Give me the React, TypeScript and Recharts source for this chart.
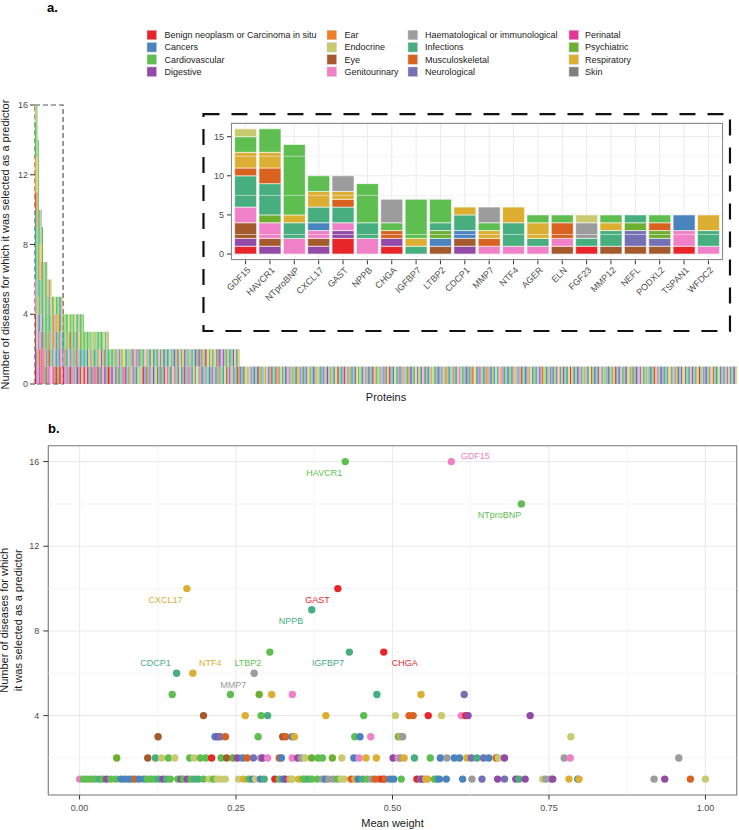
import React from 'react';
import {
  BarChart, Bar, XAxis, YAxis, CartesianGrid, ReferenceArea, ReferenceLine,
  ScatterChart, Scatter, Cell,
} from 'recharts';

const FONT = '"Liberation Sans", Arial, Helvetica, sans-serif';

// ---------- categories ----------
const categoryCodes = ['A', 'B', 'C', 'D', 'E', 'F', 'G', 'H', 'I', 'J', 'K', 'L', 'M', 'N', 'O', 'P'];
const categoryNames = [
  'Benign neoplasm or Carcinoma in situ', 'Cancers', 'Cardiovascular', 'Digestive',
  'Ear', 'Endocrine', 'Eye', 'Genitourinary',
  'Haematological or immunological', 'Infections', 'Musculoskeletal', 'Neurological',
  'Perinatal', 'Psychiatric', 'Respiratory', 'Skin',
];
const categoryColors = [
  '#E8262A', '#4A84BF', '#5EBF50', '#9349A8',
  '#F18024', '#C9CA70', '#A45A2C', '#F080C7',
  '#9C9C9C', '#47AE7F', '#DA6220', '#7570B5',
  '#E4359A', '#6CAF31', '#DCAE31', '#7F7F7F',
];
const COLOR: Record<string, string> = {};
categoryCodes.forEach((c, i) => { COLOR[c] = categoryColors[i]; });

// ---------- panel a: proteins (bottom -> top, one letter per disease) ----------
const insetProteins = ['GDF15', 'HAVCR1', 'NTproBNP', 'CXCL17', 'GAST', 'NPPB', 'CHGA', 'IGFBP7', 'LTBP2', 'CDCP1',
  'MMP7', 'NTF4', 'AGER', 'ELN', 'FGF23', 'MMP12', 'NEFL', 'PODXL2', 'TSPAN1', 'WFDC2'];
const insetCodes = ['ADGGHHJJJJKOOCCF', 'DGHHNJJJJKKOOCCC', 'HHJJOCCCCCCCCC', 'DGHBJJOOCC', 'AADHJJKOII',
  'HHJJCCCCC', 'ADKCIII', 'JOCCCCC', 'GBNJCCC', 'DGBJJO',
  'HKOCII', 'HJJJOO', 'HJOOC', 'GHKKC', 'AJIIF', 'GJJOC', 'GLLNJ', 'GLNKC', 'AHHBB', 'HJJOO'];
const fourCodes = ['AHJC', 'DGJC', 'HJOC', 'BJCC', 'GHNF', 'AJKC', 'DBJC', 'HOCC', 'JJCF', 'BGLC', 'AHCC', 'DJOI', 'GJCC', 'HBNC', 'KJCC'];
const threeCodes = ['AJC', 'HJC', 'DBC', 'GOC', 'JCC', 'BHF', 'ANC', 'HJF', 'DJC', 'GCC', 'BOC', 'AHJ', 'JLC', 'HCC', 'DKF', 'BJC', 'GJI', 'ACF'];
const twoCodes = ('AJ BC DJ HC JO GB CF BD JC HO AF DC JB LC OF CB HJ DK JH BI CD FJ OC BJ AC DH JF KC BL HJ ' +
  'CO DJ JB FC GJ BH CJ DO JL AB HC IJ CB DF JC OB HL BJ CK DJ FH JC BO AD JC LB HF DJ CI BJ ' +
  'OC JD FB HJ CA DL JO BC HD JK CF BJ DO JI HC BF CJ DA OL JB CH BD FJ KC JO DB HC IJ CD BF JL AC GO').split(' ');
const oneCodes =
  'JBDCOFIHJBLCDGJOBFCHJDKBCJAOLFJCBDHIJOCBKJFDCLBJHO' +
  'CJBDOFJCLBHJDCIOBJFKDCJBAHJOLCBJDFCOJBIHCDJBLKOJCF' +
  'BHJDCOAJBLFCJDIBOHJCKBDJCFLOJBHCDJBIOFJCDBLJHCOKJB' +
  'CFDJBOHIJCLBDJCAOFJBDHCJBKOLJDCBFJIHODJCBLJCDOFBHJ' +
  'ACJBDOIFJLCBHJDKOCJBFDLJCBHOJIDCBJFAOJLCBDHJCOIBJF' +
  'KCDJBLOHJCFBDJCIOAJBLHCJDBOFJKCBDJHLOIJCFBJDCAOHJB' +
  'DLCJBFOIJHCKBJDOFLJCBHDJCIOAJFBDLJCHOKJBCFDJIBOLHJ' +
  'CBDO';

const MAX_BLOCKS = 9;
function runs(code: string) {
  const out: { cat: string; n: number }[] = [];
  for (const ch of code) {
    const last = out[out.length - 1];
    if (last && last.cat === ch) last.n += 1;
    else out.push({ cat: ch, n: 1 });
  }
  return out;
}
function toRow(name: string, code: string) {
  const row: any = { name };
  runs(code).forEach((r, i) => { row['b' + i] = r.n; row['c' + i] = r.cat; });
  return row;
}
const insetData = insetProteins.map((p, i) => toRow(p, insetCodes[i]));
const restCodes = [...fourCodes, ...threeCodes, ...twoCodes, ...oneCodes.split('')];
const mainData = [...insetData, ...restCodes.map((c, i) => toRow('protein_' + (i + 21), c))];

// ---------- panel b: mean weight per protein, by number of diseases ----------
const rowOne: [number, string][] = [
  [0, 'H'], [0.006, 'C'], [0.012, 'C'], [0.018, 'C'], [0.024, 'C'], [0.031, 'J'], [0.037, 'C'], [0.043, 'D'], [0.05, 'C'],
  [0.058, 'C'], [0.066, 'B'], [0.072, 'B'], [0.078, 'B'], [0.084, 'B'], [0.089, 'K'], [0.095, 'B'], [0.103, 'B'], [0.108, 'C'],
  [0.114, 'C'], [0.12, 'C'], [0.126, 'J'], [0.133, 'D'], [0.139, 'J'], [0.145, 'C'], [0.157, 'C'], [0.162, 'D'], [0.166, 'C'],
  [0.172, 'D'], [0.178, 'C'], [0.184, 'J'], [0.19, 'J'], [0.198, 'C'], [0.207, 'F'], [0.214, 'C'], [0.22, 'F'], [0.226, 'F'],
  [0.233, 'F'], [0.254, 'F'], [0.262, 'O'], [0.27, 'C'], [0.276, 'B'], [0.281, 'F'], [0.289, 'B'], [0.295, 'J'], [0.312, 'A'],
  [0.319, 'C'], [0.325, 'B'], [0.329, 'D'], [0.336, 'O'], [0.34, 'F'], [0.35, 'O'], [0.357, 'C'], [0.36, 'C'], [0.366, 'J'],
  [0.371, 'C'], [0.38, 'C'], [0.388, 'I'], [0.393, 'B'], [0.398, 'I'], [0.405, 'I'], [0.412, 'C'], [0.418, 'F'], [0.423, 'F'],
  [0.434, 'K'], [0.44, 'O'], [0.445, 'B'], [0.452, 'J'], [0.459, 'C'], [0.466, 'I'], [0.472, 'K'], [0.478, 'K'], [0.484, 'A'],
  [0.488, 'K'], [0.496, 'B'], [0.502, 'B'], [0.514, 'C'], [0.539, 'A'], [0.545, 'L'], [0.548, 'D'], [0.553, 'O'], [0.556, 'O'],
  [0.567, 'C'], [0.571, 'J'], [0.575, 'B'], [0.586, 'B'], [0.612, 'B'], [0.627, 'I'], [0.643, 'L'], [0.668, 'D'], [0.679, 'L'],
  [0.697, 'D'], [0.702, 'J'], [0.712, 'D'], [0.74, 'F'], [0.745, 'I'], [0.753, 'I'], [0.756, 'D'], [0.782, 'O'], [0.796, 'B'],
  [0.798, 'O'], [0.918, 'I'], [0.935, 'D'], [0.976, 'K'], [1.0, 'F'],
];
const rowTwo: [number, string][] = [
  [0.0593, 'N'], [0.1089, 'G'], [0.1213, 'J'], [0.131, 'F'], [0.142, 'C'], [0.152, 'F'], [0.176, 'C'], [0.183, 'F'], [0.193, 'C'],
  [0.202, 'C'], [0.211, 'A'], [0.226, 'C'], [0.235, 'G'], [0.245, 'N'], [0.252, 'D'], [0.2605, 'B'], [0.2674, 'K'], [0.2777, 'L'],
  [0.2895, 'I'], [0.2922, 'D'], [0.3005, 'H'], [0.319, 'K'], [0.3225, 'B'], [0.3398, 'H'], [0.3487, 'D'], [0.3542, 'I'],
  [0.3604, 'F'], [0.3708, 'N'], [0.3811, 'C'], [0.388, 'C'], [0.4039, 'N'], [0.419, 'F'], [0.4383, 'B'], [0.4466, 'H'],
  [0.4576, 'O'], [0.4742, 'O'], [0.501, 'D'], [0.509, 'H'], [0.5127, 'I'], [0.5186, 'O'], [0.535, 'J'], [0.5604, 'C'],
  [0.5764, 'B'], [0.587, 'I'], [0.5987, 'B'], [0.6072, 'B'], [0.6189, 'O'], [0.6258, 'L'], [0.6348, 'J'], [0.6454, 'L'],
  [0.6539, 'B'], [0.6656, 'K'], [0.6693, 'F'], [0.6789, 'D'], [0.7744, 'I'], [0.784, 'H'], [0.9575, 'I'],
];
const rowThree: [number, string][] = [
  [0.1254, 'G'], [0.2164, 'B'], [0.2212, 'D'], [0.2247, 'L'], [0.233, 'K'], [0.2853, 'C'], [0.3246, 'G'], [0.3294, 'K'],
  [0.3398, 'B'], [0.3432, 'O'], [0.4397, 'C'], [0.448, 'B'], [0.4652, 'H'], [0.5093, 'C'], [0.5134, 'O'], [0.5162, 'I'], [0.785, 'F'],
];
const rowFour: [number, string][] = [
  [0.198, 'G'], [0.2647, 'O'], [0.29, 'C'], [0.3005, 'J'], [0.3935, 'O'], [0.454, 'C'], [0.5047, 'F'], [0.5265, 'K'],
  [0.533, 'K'], [0.5571, 'A'], [0.5783, 'F'], [0.61, 'H'], [0.617, 'A'], [0.6207, 'D'], [0.72, 'D'],
];
const rowFive: [number, string][] = [
  [0.148, 'C'], [0.241, 'C'], [0.287, 'N'], [0.307, 'O'], [0.34, 'H'], [0.475, 'J'], [0.5455, 'O'], [0.6146, 'L'],
];
const labeledProteins = ['GDF15', 'HAVCR1', 'NTproBNP', 'CXCL17', 'GAST', 'NPPB', 'CHGA', 'IGFBP7', 'LTBP2', 'CDCP1', 'NTF4', 'MMP7'];
const labeledWeights = [0.594, 0.4245, 0.706, 0.1715, 0.4127, 0.371, 0.486, 0.431, 0.304, 0.155, 0.181, 0.279];
const labeledCounts = [16, 16, 14, 10, 10, 9, 7, 7, 7, 6, 6, 6];
const labeledCats = ['H', 'C', 'C', 'O', 'A', 'J', 'A', 'J', 'C', 'J', 'O', 'I'];

const scatterData = [
  ...rowOne.map(([x, cat]) => ({ x, y: 1, cat })),
  ...rowTwo.map(([x, cat]) => ({ x, y: 2, cat })),
  ...rowThree.map(([x, cat]) => ({ x, y: 3, cat })),
  ...rowFour.map(([x, cat]) => ({ x, y: 4, cat })),
  ...rowFive.map(([x, cat]) => ({ x, y: 5, cat })),
];
const labeledData = labeledProteins.map((name, i) => ({ name, x: labeledWeights[i], y: labeledCounts[i], cat: labeledCats[i] }));

// label placement (px offset of label centre from its point)
const labelNudge: Record<string, [number, number]> = {
  GDF15: [24, -6], HAVCR1: [-21, 11.3], NTproBNP: [-22, 11.2], CXCL17: [-21.4, 11.5], GAST: [-20.4, 10.8],
  NPPB: [-20.8, 11], CHGA: [21, 11], IGFBP7: [-21.3, 11], LTBP2: [-22, 11], CDCP1: [-21, -10], NTF4: [17.5, -10], MMP7: [-21, 11.5],
};

const tickStyle = { fontSize: 9, fill: '#4D4D4D', fontFamily: FONT };
const blockKeys = Array.from({ length: MAX_BLOCKS }, (_, i) => i);

const Dot = (props: any) => {
  const { cx, cy, payload } = props;
  if (cx == null || cy == null) return null;
  return <circle cx={cx} cy={cy} r={3.7} fill={COLOR[payload.cat]} />;
};
const LabeledDot = (props: any) => {
  const { cx, cy, payload } = props;
  if (cx == null || cy == null) return null;
  const [dx, dy] = labelNudge[payload.name] || [0, 0];
  return (
    <g>
      <circle cx={cx} cy={cy} r={3.7} fill={COLOR[payload.cat]} />
      <text x={cx + dx} y={cy + dy + 3.2} textAnchor="middle" fontSize={9} fontFamily={FONT} fill={COLOR[payload.cat]}>
        {payload.name}
      </text>
    </g>
  );
};

const InsetTick = (props: any) => {
  const { x, y, payload } = props;
  return (
    <g transform={`translate(${x + 1},${y})`}>
      <text x={0} y={0} dy="0.7em" textAnchor="end" transform="rotate(-45)" fontSize={9} fill="#4D4D4D" fontFamily={FONT}>
        {payload.value}
      </text>
    </g>
  );
};

const legendKeyX = [147, 327, 408, 569];
const legendTextX = [164.5, 344.6, 425, 585];

export default function App() {
  return (
    <div style={{ position: 'absolute', left: 0, top: 0, width: 739, height: 830, background: '#fff', fontFamily: FONT }}>
      {/* panel a */}
      <div style={{ position: 'absolute', left: 0, top: 0 }}>
        <BarChart width={739} height={400} data={mainData} margin={{ top: 105, right: 2, bottom: 16, left: 0 }}
          barCategoryGap={0} barGap={0}>
          <XAxis dataKey="name" hide />
          <YAxis width={35} domain={[0, 16]} ticks={[0, 4, 8, 12, 16]} axisLine={false}
            tickLine={{ stroke: '#333' }} tickSize={5} tickMargin={2} tick={tickStyle} allowDataOverflow />
          {blockKeys.map((k) => (
            <Bar key={k} dataKey={'b' + k} stackId="s" isAnimationActive={false}>
              {mainData.map((d: any, j: number) => (
                <Cell key={j} fill={COLOR[d['c' + k]] || '#ccc'} />
              ))}
            </Bar>
          ))}
          <ReferenceArea x1={mainData[0].name} x2={mainData[19].name} y1={0} y2={16} fill="none" fillOpacity={0}
            stroke="#555" strokeWidth={1.2} strokeDasharray="5 3" ifOverflow="visible" />
          <ReferenceArea x1={mainData[120].name} x2={mainData[494].name} y1={3.04} y2={15.48} fill="none" fillOpacity={0}
            stroke="#111" strokeWidth={2.2} strokeDasharray="16 12" ifOverflow="visible" />
        </BarChart>
      </div>

      {/* inset */}
      <div style={{ position: 'absolute', left: 200, top: 110 }}>
        <BarChart width={530} height={200} data={insetData} margin={{ top: 12.6, right: 7, bottom: 0, left: 0 }}
          barCategoryGap="5%" barGap={0}>
          <CartesianGrid stroke="#EBEBEB" strokeWidth={1} />
          {[2.5, 7.5, 12.5].map((v) => (
            <ReferenceLine key={v} y={v} stroke="#EFEFEF" strokeWidth={0.6} />
          ))}
          <XAxis dataKey="name" height={49.7} padding={{ left: 2.4, right: 2.4 }} axisLine={false}
            tickLine={{ stroke: '#333' }} tickSize={4} tickMargin={2} tick={<InsetTick />} interval={0} />
          <YAxis width={31} domain={[-0.8, 16.8]} ticks={[0, 5, 10, 15]} axisLine={false}
            tickLine={{ stroke: '#333' }} tickSize={4} tickMargin={3} tick={tickStyle} allowDataOverflow />
          {blockKeys.map((k) => (
            <Bar key={k} dataKey={'b' + k} stackId="s" isAnimationActive={false} stroke="#fff" strokeWidth={0.6}>
              {insetData.map((d: any, j: number) => (
                <Cell key={j} fill={COLOR[d['c' + k]] || '#ccc'} />
              ))}
            </Bar>
          ))}
        </BarChart>
      </div>
      <div style={{ position: 'absolute', left: 231, top: 122.6, width: 492, height: 137.7, border: '1px solid #8A8A8A', boxSizing: 'border-box', pointerEvents: 'none' }} />

      {/* panel b */}
      <div style={{ position: 'absolute', left: 0, top: 400 }}>
        <ScatterChart width={739} height={430} margin={{ top: 45.7, right: 2.3, bottom: 15, left: 0 }}>
          {[0.125, 0.375, 0.625, 0.875].map((v) => (
            <ReferenceLine key={'vx' + v} x={v} stroke="#F0F0F0" strokeWidth={0.7} />
          ))}
          {[2, 6, 10, 14].map((v) => (
            <ReferenceLine key={'hy' + v} y={v} stroke="#F0F0F0" strokeWidth={0.7} />
          ))}
          <CartesianGrid stroke="#EBEBEB" strokeWidth={1.1} />
          <XAxis type="number" dataKey="x" domain={[-0.05, 1.05]} ticks={[0, 0.25, 0.5, 0.75, 1]}
            tickFormatter={(v: number) => v.toFixed(2)} height={20} axisLine={false}
            tickLine={{ stroke: '#333' }} tickSize={4.5} tickMargin={5} tick={tickStyle} allowDataOverflow />
          <YAxis type="number" dataKey="y" domain={[0.25, 16.75]} ticks={[4, 8, 12, 16]} width={48.3} axisLine={false}
            tickLine={{ stroke: '#333' }} tickSize={5} tickMargin={4} tick={tickStyle} allowDataOverflow />
          <ReferenceArea x1={-0.05} x2={1.05} y1={0.25} y2={16.75} fill="none" fillOpacity={0}
            stroke="#7F7F7F" strokeWidth={1.1} ifOverflow="visible" />
          <Scatter data={scatterData} shape={<Dot />} isAnimationActive={false} />
          <Scatter data={labeledData} shape={<LabeledDot />} isAnimationActive={false} />
        </ScatterChart>
      </div>

      {/* titles & legend */}
      <svg width={739} height={830} style={{ position: 'absolute', left: 0, top: 0, pointerEvents: 'none' }} fontFamily={FONT}>
        <text x={47} y={12} fontSize={13} fontWeight="bold" fill="#000">a.</text>
        <text x={48} y={432.5} fontSize={13} fontWeight="bold" fill="#000">b.</text>
        <text x={386} y={401} fontSize={11} textAnchor="middle" fill="#1A1A1A">Proteins</text>
        <text x={9} y={244.5} fontSize={11} textAnchor="middle" fill="#1A1A1A" transform="rotate(-90 9 244.5)">
          Number of diseases for which it was selected as a predictor
        </text>
        <text x={392.5} y={826.5} fontSize={11} textAnchor="middle" fill="#1A1A1A">Mean weight</text>
        <text x={8.5} y={620.3} fontSize={11} textAnchor="middle" fill="#1A1A1A" transform="rotate(-90 8.5 620.3)">
          Number of diseases for which
        </text>
        <text x={22.5} y={620.3} fontSize={11} textAnchor="middle" fill="#1A1A1A" transform="rotate(-90 22.5 620.3)">
          it was selected as a predictor
        </text>
        {categoryNames.map((name, i) => {
          const col = Math.floor(i / 4);
          const row = i % 4;
          const cy = 35 + row * 12.25;
          return (
            <g key={name}>
              <rect x={legendKeyX[col]} y={cy - 4.8} width={9.6} height={9.6} fill={categoryColors[i]} stroke="#D0D0D0" strokeWidth={0.5} />
              <text x={legendTextX[col]} y={cy + 3.2} fontSize={9} fill="#222">{name}</text>
            </g>
          );
        })}
      </svg>
    </div>
  );
}
